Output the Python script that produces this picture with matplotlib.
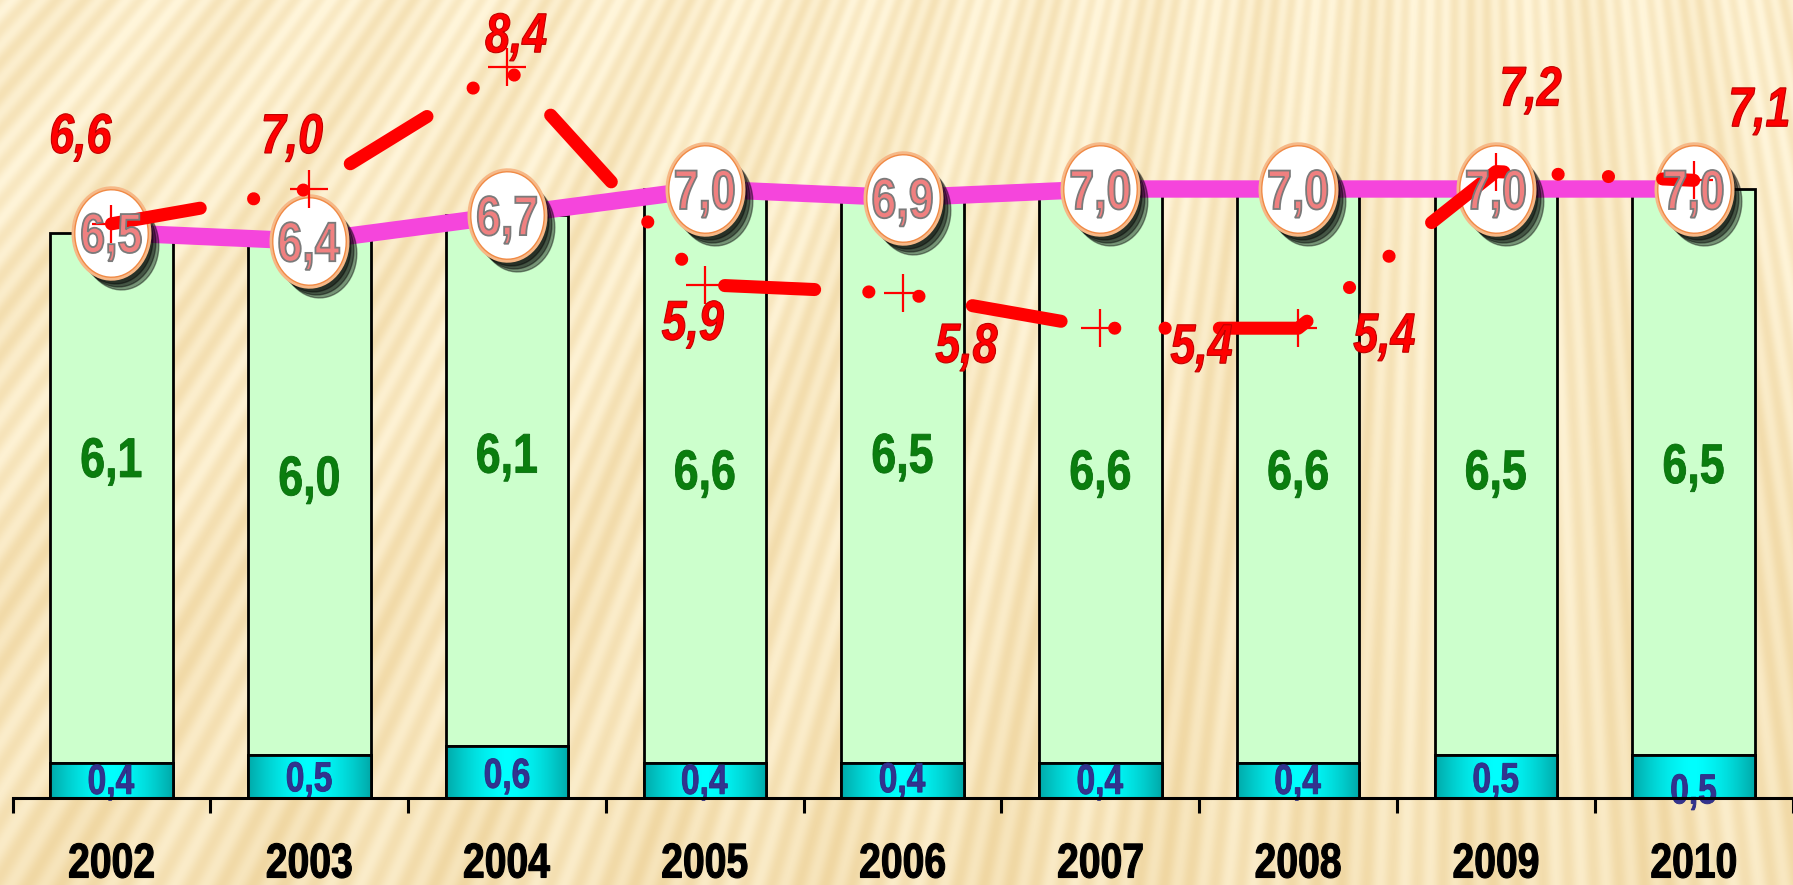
import numpy as np
import matplotlib
matplotlib.use("Agg")
import matplotlib.pyplot as plt
import matplotlib.transforms as mtransforms
from matplotlib.path import Path
from matplotlib.patches import PathPatch
from matplotlib.textpath import TextPath
from matplotlib.font_manager import FontProperties
from matplotlib.colors import to_rgb

# --- data ---
years = ["2002", "2003", "2004", "2005", "2006", "2007", "2008", "2009", "2010"]
base_vals = [0.4, 0.5, 0.6, 0.4, 0.4, 0.4, 0.4, 0.5, 0.5]
main_vals = [6.1, 6.0, 6.1, 6.6, 6.5, 6.6, 6.6, 6.5, 6.5]
pink_vals = [6.5, 6.4, 6.7, 7.0, 6.9, 7.0, 7.0, 7.0, 7.0]
red_vals = [6.6, 7.0, 8.4, 5.9, 5.8, 5.4, 5.4, 7.2, 7.1]

# label placement (pixels, image y downwards, relative to the point)
red_label_off = [(-30, -91), (-16, -56), (9, -35), (-12, 35), (64, 49),
                 (101, 15), (86, 4), (36, -86), (66, -74)]
green_label_y = [3.92, 3.71, 3.97, 3.78, 3.97, 3.78, 3.78, 3.78, 3.85]
base_label_y = [0.22, 0.25, 0.29, 0.22, 0.24, 0.22, 0.22, 0.24, 0.11]

W, H = 1793, 885


def fmt(v):
    return f"{v:.1f}".replace(".", ",")


def narrow_text(ax, x, y, s, cap_px, color, dx=0, dy=0, italic=False,
                edge=None, ew=0.0, z=5, sx=0.8):
    # bold Arial-like text squeezed horizontally, centred on the digit body
    fp = FontProperties(family="Liberation Sans", weight="bold",
                        style="italic" if italic else "normal")
    em = cap_px / 0.716
    tp = TextPath((0, 0), s, size=em, prop=fp)
    ext = tp.get_extents()
    cx = (ext.x0 + ext.x1) / 2
    tr = (mtransforms.Affine2D().translate(-cx, -cap_px / 2).scale(sx, 1).translate(dx, dy)
          + mtransforms.ScaledTranslation(x, y, ax.transData))
    p = PathPatch(tp, transform=tr, facecolor=color,
                  edgecolor=edge if edge else color, lw=ew, zorder=z, clip_on=False)
    ax.add_artist(p)


fig = plt.figure(figsize=(W / 100, H / 100), dpi=100)

# --- striped beige background ---
bg = fig.add_axes([0, 0, 1, 1], zorder=-10)
yy, xx = np.mgrid[0:H, 0:W].astype(float)
theta = np.arctan2(xx - 1450, yy + 1600)
stripes = 0.5 + 0.5 * np.sin(620 * theta + 0.004 * yy)
wide = 0.5 + 0.5 * np.sin(95 * theta)
shade = 0.36 * stripes + 0.22 * wide + 0.3 * (yy / H) - 0.05
shade = np.clip(shade, 0, 1)[..., None]
light = np.array(to_rgb("#FFF5DA"))
dark = np.array(to_rgb("#EDD197"))
bg.imshow(light * (1 - shade) + dark * shade, aspect="auto", interpolation="bilinear")
bg.axis("off")

# --- main axes ---
ax = fig.add_axes([12.6 / W, 87 / H, 1780 / W, 798 / H])
ax.set_facecolor("none")

x = np.arange(len(years))
bw = 0.62

# stacked bars
base_bars = ax.bar(x, base_vals, bw, color="#00E5E5", edgecolor="black", linewidth=2.0, zorder=2)
ax.bar(x, main_vals, bw, bottom=base_vals, color="#CCFFCC", edgecolor="black", linewidth=2.0, zorder=2)

# horizontal cyan gradient inside the lower segments
grad_u = np.linspace(0, 1, 200)
t = 1 - np.abs(2 * grad_u - 1) ** 1.6
c_edge = np.array(to_rgb("#00A9A9"))
c_mid = np.array(to_rgb("#00FFFF"))
grad = (c_edge[None, :] * (1 - t[:, None]) + c_mid[None, :] * t[:, None])[None, :, :]
for b in base_bars:
    im = ax.imshow(grad, extent=(b.get_x(), b.get_x() + b.get_width(), 0, b.get_height()),
                   aspect="auto", zorder=2.1, interpolation="bilinear")
    im.set_clip_path(b)
ax.bar(x, base_vals, bw, color="none", edgecolor="black", linewidth=2.0, zorder=2.2)
ax.set_xlim(-0.5, 8.5)
ax.set_ylim(0, 798 / 87)

for i in range(len(years)):
    narrow_text(ax, x[i], green_label_y[i], fmt(main_vals[i]), 40, "#0A7E0E",
                edge="#086A0C", ew=0.6, z=3)
    narrow_text(ax, x[i], base_label_y[i], fmt(base_vals[i]), 30, "#33338F",
                edge="#2A2A80", ew=0.6, z=3)

# pink line with white oval markers
ang = np.linspace(0, 2 * np.pi, 60)
oval = Path(np.column_stack([0.42 * np.cos(ang), 0.5 * np.sin(ang)]), closed=True)
ax.plot(x, pink_vals, color="#F545DC", lw=12.5, zorder=4, solid_capstyle="butt")
for ox, oy in [(4, -6), (7, -9), (10, -12)]:
    shadow_tr = mtransforms.offset_copy(ax.transData, fig=fig, x=ox, y=oy, units="dots")
    ax.plot(x, pink_vals, ls="none", marker=oval, ms=64, color="black", alpha=0.42,
            transform=shadow_tr, zorder=4.5)
ax.plot(x, pink_vals, ls="none", marker=oval, ms=65, markerfacecolor="white",
        markeredgecolor="#F6B887", mew=3, zorder=5)
ax.plot(x, pink_vals, ls="none", marker=oval, ms=63, markerfacecolor="white",
        markeredgecolor="#F08A45", mew=1.0, zorder=5.1)

# red dash-dot-dot line
red_line, = ax.plot(x, red_vals, color="#FF0000", lw=9.4, zorder=6)
red_line.set_dashes([6.9, 4.15, 0.01, 3.85, 0.01, 4.15])
red_line.set_dash_capstyle("round")
ax.plot(x, red_vals, ls="none", marker="+", ms=27, mew=1.6, color="#FF0000", zorder=6.5)

for i in range(len(years)):
    narrow_text(ax, x[i], pink_vals[i], fmt(pink_vals[i]), 40, "#F08080",
                edge="#7A7A7A", ew=1.3, z=7)
    dx, dy = red_label_off[i]
    narrow_text(ax, x[i], red_vals[i], fmt(red_vals[i]), 40, "#FF0000",
                dx=dx, dy=-dy, italic=True, edge="#C00000", ew=0.8, z=8)

# axis styling
for s in ["top", "right", "left"]:
    ax.spines[s].set_visible(False)
ax.spines["bottom"].set_linewidth(2.2)
ax.spines["bottom"].set_zorder(3)
ax.set_yticks([])
ax.set_xticks(np.arange(-0.5, 9.0, 1.0))
ax.set_xticklabels([])
ax.tick_params(axis="x", direction="out", length=11, width=2.2)
for i, yr in enumerate(years):
    narrow_text(ax, x[i], -62 / 87, yr, 35, "black", edge="black", ew=0.8, z=3)

fig.savefig("out.png", dpi=100)
